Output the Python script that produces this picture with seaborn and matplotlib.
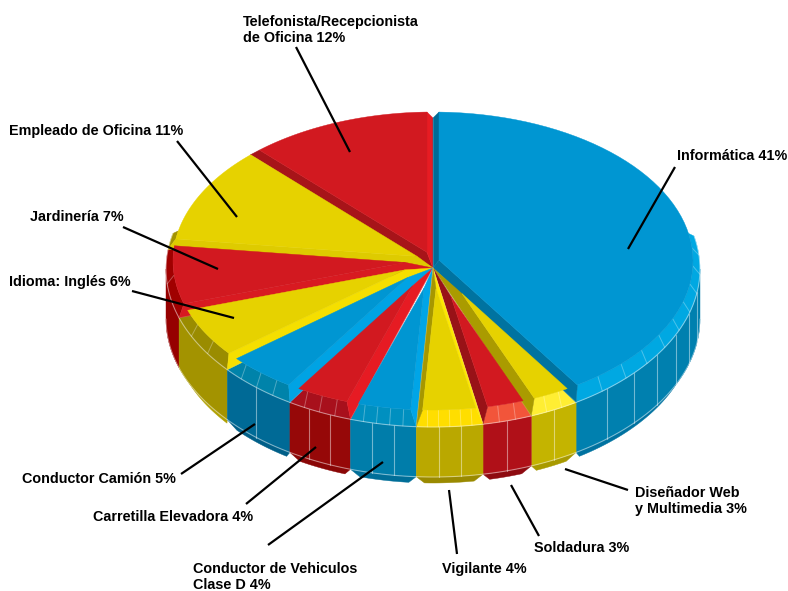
import numpy as np
import pandas as pd
import seaborn as sns
import matplotlib
matplotlib.use("Agg")
import matplotlib.pyplot as plt
from matplotlib.patches import Polygon

# Chart data
categories = [
    "Informática", "Diseñador Web\ny Multimedia", "Soldadura", "Vigilante",
    "Conductor de Vehiculos\nClase D", "Carretilla Elevadora", "Conductor Camión",
    "Idioma: Inglés", "Jardinería", "Empleado de Oficina",
    "Telefonista/Recepcionista\nde Oficina",
]
percents = [41, 3, 3, 4, 4, 4, 5, 6, 7, 11, 12]

# Colours per slice, same order as the data
face_colors = ["#0096D2", "#E6D200", "#D21920", "#E6D200", "#0096D2", "#D21920",
               "#0096D2", "#E6D200", "#D21920", "#E6D200", "#D21920"]
bevel_colors = ["#00A8E2", "#FFEE33", "#F2553A", "#FFDE00", "#0090C0", "#A8101C",
                "#0083AA", "#9A8C00", "#A00000", "#A39300", "#D21920"]
wall_colors = ["#0080AF", "#C4B400", "#B01018", "#BAA800", "#007DAA", "#960808",
               "#006A96", "#A39300", "#960000", "#A39300", "#960000"]
lip_colors = ["#0072A0", "#A89A00", "#8E0A10", "#9A8A00", "#006E98", "#8A0606",
              "#005F88", "#B0A000", "#8A0000", "#A39300", "#8A0000"]
wall_line_counts = [6, 1, 1, 2, 2, 2, 1, 0, 0, 0, 0]
bevel_line_counts = [9, 2, 2, 5, 4, 3, 3, 2, 1, 0, 0]

# Label text positions (left, middle) and leader lines in picture pixels
label_pos = [(677, 156), (635, 501), (534, 548), (442, 569), (193, 577), (93, 517),
             (22, 479), (9, 282), (30, 217), (9, 131), (243, 30)]
leaders = [((675, 167), (628, 249)), ((628, 490), (565, 469)), ((539, 536), (511, 485)),
           ((457, 554), (449, 490)), ((268, 545), (383, 462)), ((246, 504), (316, 447)),
           ((181, 474), (255, 424)), ((132, 291), (234, 318)), ((123, 227), (218, 269)),
           ((177, 141), (237, 217)), ((296, 47), (350, 152))]

# Pie shape, pixels
cx, cy = 433, 269
rim_r, rim_k = 267, 158 / 267
top_r, top_k = 260, 149 / 260
raise_h, wall_h = 8, 50
inset = 6
lip_r, lip_k, lip_drop = 261, 155 / 261, 59


def rim_pt(t, drop=0):
    return cx + rim_r * np.sin(t), cy - rim_r * rim_k * np.cos(t) + drop


def top_pt(u, v):
    return cx + u, cy - raise_h - top_k * v


def top_arc(t):
    return top_pt(top_r * np.sin(t), top_r * np.cos(t))


def lip_pt(t):
    return cx + lip_r * np.sin(t), cy + lip_drop - lip_r * lip_k * np.cos(t)


def strip_end(t):
    # the strips stop a little short of the rim at the back, which leaves the notch on top
    x, y = rim_pt(t)
    c = max(np.cos(t), 0)
    return np.array([x, y + 7 * c ** 6])


def shaded(color, facing):
    s = np.sin(facing)
    f = 1 + 0.1 * s if s > 0 else 1 + 0.28 * s
    return tuple(np.clip(np.array(matplotlib.colors.to_rgb(color)) * f, 0, 1))


def cross(p, q):
    return p[0] * q[1] - p[1] * q[0]


def add_poly(ax, pts, color, z):
    ax.add_patch(Polygon(pts, closed=True, facecolor=color, edgecolor=color, lw=0.3, zorder=z))


sns.set_theme(style="white")
plt.rcParams["font.family"] = ["Liberation Sans", "DejaVu Sans"]

df = pd.DataFrame({"category": categories, "percent": percents})
df["end"] = np.radians(df["percent"].cumsum() * 3.6)
df["start"] = df["end"] - np.radians(df["percent"] * 3.6)

fig = plt.figure(figsize=(7.88, 5.91), dpi=100)
ax = fig.add_axes([0, 0, 1, 1])
ax.set_xlim(0, 788)
ax.set_ylim(591, 0)
sns.despine(ax=ax, left=True, bottom=True)
ax.set_xticks([])
ax.set_yticks([])

apex = np.array([cx, cy - 1.0])
line_kw = dict(color="white", alpha=0.45, lw=0.8)

for i, row in df.iterrows():
    a, b = row["start"], row["end"]
    mid = (a + b) / 2
    order = np.cos(mid)

    # outer wall and the small lip under it
    wa, wb = max(a, np.pi / 2), min(b, 3 * np.pi / 2)
    if wa < wb:
        ts = np.linspace(wa, wb, 40)
        lip_ts = np.linspace(wa + 0.03, wb - 0.03, 40)
        top_edge = [rim_pt(t) for t in ts]
        low_edge = [rim_pt(t, wall_h) for t in ts]
        lip_edge = [lip_pt(t) for t in lip_ts]
        add_poly(ax, low_edge + lip_edge[::-1], lip_colors[i], 2 - order)
        add_poly(ax, top_edge + low_edge[::-1], wall_colors[i], 3 - order)
        ax.plot(*zip(*low_edge), zorder=3.5 - order, **line_kw)
        for t in np.linspace(wa, wb, wall_line_counts[i] + 2)[1:-1]:
            ax.plot(*zip(rim_pt(t), rim_pt(t, wall_h)), zorder=3.5 - order, **line_kw)

    # bevel round the top edge
    ba, bb = max(a, np.radians(78)), min(b, np.radians(283))
    if ba < bb:
        ts = np.linspace(ba, bb, 40)
        d = inset / top_r
        inner_ts = np.linspace(ba + d, bb - d, 40)
        outer = [rim_pt(t) for t in ts]
        inner = [top_arc(t) for t in inner_ts]
        add_poly(ax, outer + inner[::-1], bevel_colors[i], 6)
        ax.plot(*zip(*outer), zorder=6.5, **line_kw)
        for t in np.linspace(ba, bb, bevel_line_counts[i] + 2)[1:-1]:
            ax.plot(*zip(rim_pt(t), top_arc(t)), zorder=6.5, color="white", alpha=0.3, lw=0.7)

    # sloped strips along the cut edges, then the top face
    half = (b - a) / 2
    tip_d = inset / np.sin(half)
    tip = top_pt(tip_d * np.sin(mid), tip_d * np.cos(mid))
    d = np.arcsin(inset / top_r)
    z = 10 - order
    mid_rim = np.array(rim_pt(mid)) - apex
    for t, tf, facing in [(a, a + d, a - np.pi / 2), (b, b - d, b + np.pi / 2)]:
        r_p = strip_end(t)
        f_p = np.array(top_arc(tf))
        edge = r_p - apex
        if cross(edge, f_p - r_p) * cross(edge, mid_rim) > 0:
            add_poly(ax, [apex, r_p, f_p, tip], shaded(face_colors[i], facing), z)
            ax.plot(*zip(r_p, apex), color="white", alpha=0.18, lw=0.6, zorder=z)
    arc = [top_arc(t) for t in np.linspace(a + d, b - d, 60)]
    add_poly(ax, [tip] + arc, face_colors[i], z + 0.01)

# Labels and leader lines
for i, row in df.iterrows():
    text = f"{row['category']} {row['percent']}%"
    ax.text(*label_pos[i], text, ha="left", va="center", fontsize=10.35, fontweight="bold",
            color="black", linespacing=1.25, zorder=30)
    ax.plot(*zip(*leaders[i]), color="black", lw=1.6, zorder=25, solid_capstyle="butt")

fig.savefig("out.png", dpi=100, facecolor="white")
